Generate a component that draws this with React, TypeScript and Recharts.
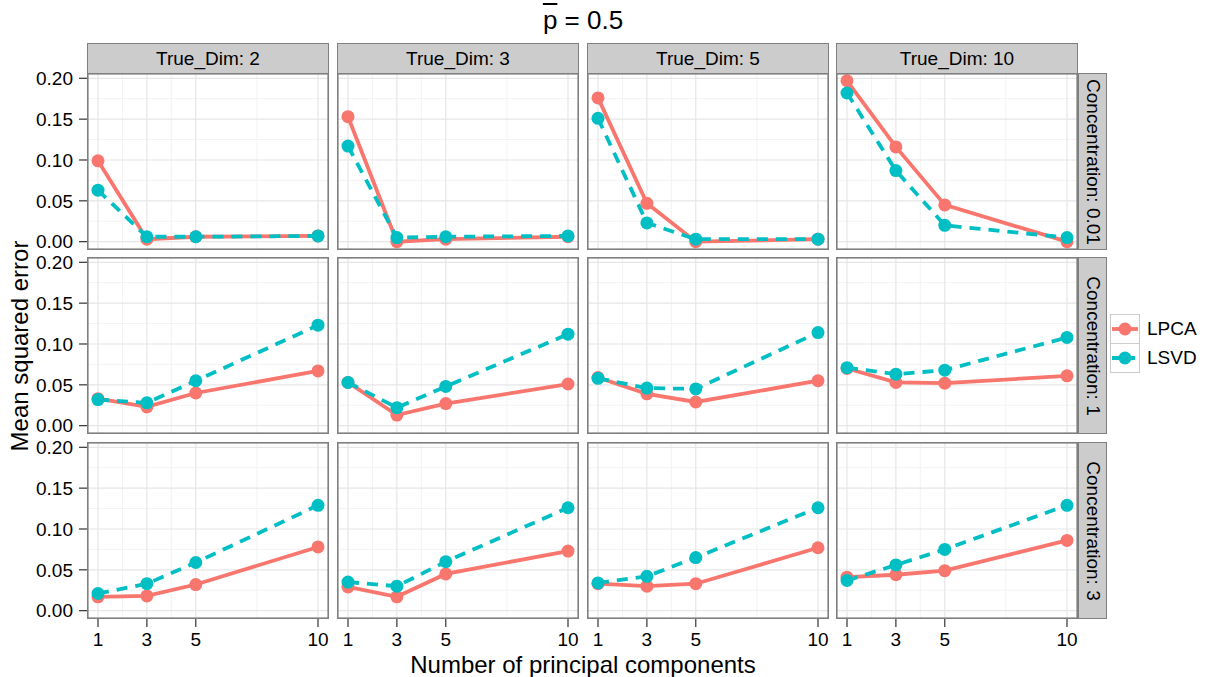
import React from 'react'
import { LineChart, Line, XAxis, YAxis, CartesianGrid } from 'recharts'

const components = [1, 3, 5, 10]
const trueDims = [2, 3, 5, 10]
const concentrations = ['0.01', '1', '3']

// one array per concentration, inner arrays follow trueDims
const lpcaConc001 = [
  [0.099, 0.003, 0.006, 0.007],
  [0.153, 0.0, 0.003, 0.006],
  [0.176, 0.047, 0.0, 0.003],
  [0.197, 0.116, 0.045, 0.0],
]
const lsvdConc001 = [
  [0.063, 0.006, 0.006, 0.007],
  [0.117, 0.005, 0.006, 0.007],
  [0.151, 0.023, 0.003, 0.003],
  [0.182, 0.087, 0.02, 0.005],
]
const lpcaConc1 = [
  [0.033, 0.023, 0.04, 0.067],
  [0.053, 0.013, 0.027, 0.051],
  [0.059, 0.039, 0.029, 0.055],
  [0.07, 0.053, 0.052, 0.061],
]
const lsvdConc1 = [
  [0.032, 0.028, 0.055, 0.123],
  [0.053, 0.022, 0.048, 0.112],
  [0.058, 0.046, 0.045, 0.114],
  [0.071, 0.063, 0.068, 0.108],
]
const lpcaConc3 = [
  [0.017, 0.018, 0.032, 0.078],
  [0.029, 0.017, 0.045, 0.073],
  [0.033, 0.03, 0.033, 0.077],
  [0.041, 0.044, 0.049, 0.086],
]
const lsvdConc3 = [
  [0.021, 0.033, 0.059, 0.129],
  [0.035, 0.03, 0.06, 0.126],
  [0.034, 0.042, 0.065, 0.126],
  [0.037, 0.056, 0.075, 0.129],
]

const LPCA = [lpcaConc001, lpcaConc1, lpcaConc3]
const LSVD = [lsvdConc001, lsvdConc1, lsvdConc3]

const yTicks = [0, 0.05, 0.1, 0.15, 0.2]
const yMinor = [0.025, 0.075, 0.125, 0.175]
const xMinor = [2, 4, 7.5]

const X_DOMAIN = [0.55, 10.45]
const Y_DOMAIN = [-0.0102, 0.2065]

const RED = '#F8766D'
const TEAL = '#00BFC4'
const FONT = '"Liberation Sans", Arial, Helvetica, sans-serif'

const COL_X = [87, 337, 587, 836]
const ROW_Y = [73, 257, 442]
const PANEL_W = 242
const PANEL_H = 177
const PAD = 12

function Panel({ row, col }: { row: number; col: number }) {
  const yAxisW = col === 0 ? COL_X[0] : 0
  const xAxisH = row === 2 ? 40 : 0
  const data = components.map((k, i) => ({
    k,
    LPCA: LPCA[row][col][i],
    LSVD: LSVD[row][col][i],
  }))
  return (
    <div style={{ position: 'absolute', left: col === 0 ? 0 : COL_X[col], top: ROW_Y[row] - PAD }}>
      <LineChart
        width={PANEL_W + yAxisW}
        height={PANEL_H + xAxisH + 2 * PAD}
        data={data}
        margin={{ top: PAD, right: 0, bottom: PAD, left: 0 }}
      >
        <XAxis
          type="number"
          dataKey="k"
          domain={X_DOMAIN}
          ticks={components}
          interval={0}
          allowDataOverflow
          hide={row !== 2}
          height={xAxisH}
          axisLine={false}
          tickSize={8}
          tickMargin={6}
          tickLine={{ stroke: '#333', strokeWidth: 1.2 }}
          tick={{ fontSize: 19, fill: '#000', fontFamily: FONT }}
        />
        <YAxis
          type="number"
          domain={Y_DOMAIN}
          ticks={yTicks}
          interval={0}
          allowDataOverflow
          hide={col !== 0}
          width={yAxisW}
          axisLine={false}
          tickSize={8}
          tickMargin={6}
          tickLine={{ stroke: '#333', strokeWidth: 1.2 }}
          tickFormatter={(v: number) => v.toFixed(2)}
          tick={{ fontSize: 19, fill: '#000', fontFamily: FONT }}
        />
        <CartesianGrid horizontalValues={yMinor} verticalValues={xMinor} stroke="#f3f3f3" strokeWidth={1} />
        <CartesianGrid horizontalValues={yTicks} verticalValues={components} stroke="#e6e6e6" strokeWidth={1.2} />
        <Line
          dataKey="LPCA"
          stroke={RED}
          strokeWidth={3.8}
          dot={{ r: 6.5, fill: RED, stroke: 'none' }}
          activeDot={false}
          isAnimationActive={false}
        />
        <Line
          dataKey="LSVD"
          stroke={TEAL}
          strokeWidth={3.8}
          strokeDasharray="11 8"
          dot={{ r: 6.5, fill: TEAL, stroke: 'none', strokeDasharray: '' }}
          activeDot={false}
          isAnimationActive={false}
        />
      </LineChart>
      <svg
        width={PANEL_W}
        height={PANEL_H}
        style={{ position: 'absolute', left: yAxisW, top: PAD, pointerEvents: 'none' }}
      >
        <rect x={0.8} y={0.8} width={PANEL_W - 1.6} height={PANEL_H - 1.6} fill="none" stroke="#7f7f7f" strokeWidth={1.6} />
      </svg>
    </div>
  )
}

function Strip({ left, top, width, height, text, vertical }: any) {
  return (
    <div
      style={{
        position: 'absolute',
        left,
        top,
        width,
        height,
        boxSizing: 'border-box',
        background: '#cccccc',
        border: '1.6px solid #7f7f7f',
        display: 'flex',
        alignItems: 'center',
        justifyContent: 'center',
        fontFamily: FONT,
        fontSize: 19,
        color: '#000',
        whiteSpace: 'nowrap',
      }}
    >
      <span style={vertical ? { transform: 'rotate(90deg)', display: 'inline-block' } : undefined}>{text}</span>
    </div>
  )
}

function LegendKey({ color, dashed }: { color: string; dashed?: boolean }) {
  return (
    <svg width={30} height={30} style={{ display: 'block' }}>
      <rect x={0.5} y={0.5} width={29} height={29} fill="#fff" stroke="#cccccc" />
      <line x1={2} y1={15} x2={28} y2={15} stroke={color} strokeWidth={3.8} strokeDasharray={dashed ? '9 5' : undefined} />
      <circle cx={15} cy={15} r={6.5} fill={color} />
    </svg>
  )
}

export default function App() {
  return (
    <div style={{ position: 'absolute', left: 0, top: 0, width: 1229, height: 677, background: '#fff', fontFamily: FONT }}>
      <div style={{ position: 'absolute', left: 483, width: 200, top: 5, textAlign: 'center', fontSize: 26, color: '#000' }}>
        <span style={{ textDecoration: 'overline' }}>p</span> = 0.5
      </div>

      {trueDims.map((d, c) => (
        <Strip key={'t' + d} left={COL_X[c]} top={43} width={PANEL_W} height={31} text={`True_Dim: ${d}`} />
      ))}
      {concentrations.map((cc, r) => (
        <Strip key={'c' + cc} left={1078} top={ROW_Y[r]} width={29} height={PANEL_H} text={`Concentration: ${cc}`} vertical />
      ))}

      {concentrations.map((_, r) =>
        trueDims.map((__, c) => <Panel key={`${r}-${c}`} row={r} col={c} />)
      )}

      <div
        style={{
          position: 'absolute',
          left: 20,
          top: 346,
          transform: 'translate(-50%, -50%) rotate(-90deg)',
          fontSize: 24,
          lineHeight: 1,
          whiteSpace: 'nowrap',
          color: '#000',
        }}
      >
        Mean squared error
      </div>
      <div
        style={{
          position: 'absolute',
          left: 383,
          width: 400,
          top: 653,
          textAlign: 'center',
          fontSize: 24,
          lineHeight: 1,
          color: '#000',
        }}
      >
        Number of principal components
      </div>

      <div style={{ position: 'absolute', left: 1110, top: 314 }}>
        <div style={{ display: 'flex', alignItems: 'center', height: 29 }}>
          <LegendKey color={RED} />
          <span style={{ marginLeft: 7, fontSize: 19 }}>LPCA</span>
        </div>
        <div style={{ display: 'flex', alignItems: 'center', height: 29 }}>
          <LegendKey color={TEAL} dashed />
          <span style={{ marginLeft: 7, fontSize: 19 }}>LSVD</span>
        </div>
      </div>
    </div>
  )
}
